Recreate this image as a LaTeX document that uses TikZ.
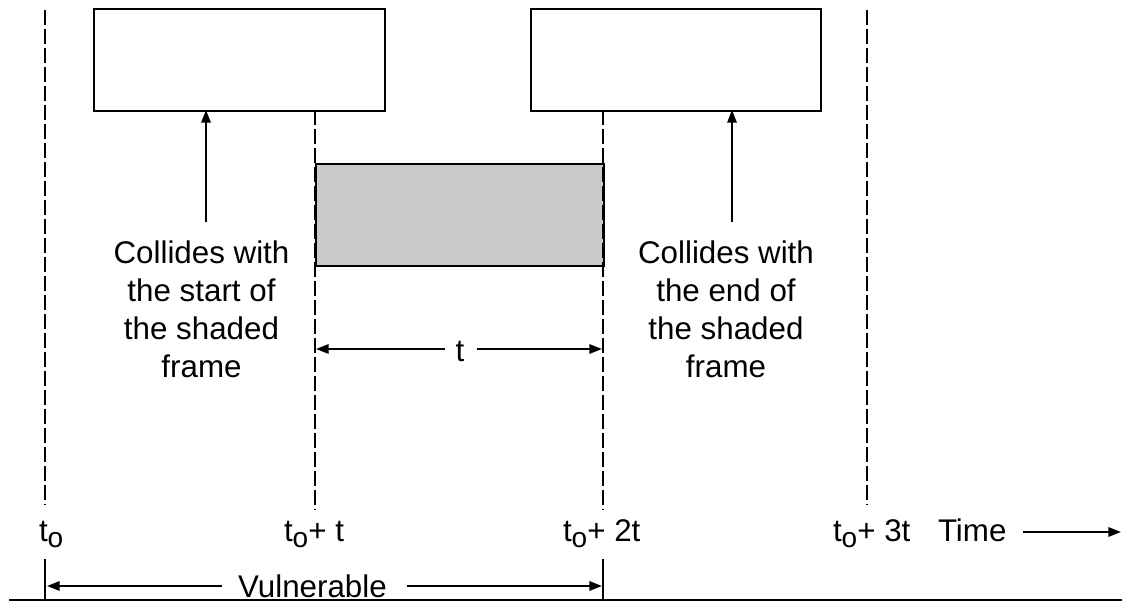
\documentclass[tikz,border=0pt]{standalone}
\usepackage{fontspec}
\setmainfont{Liberation Sans}
\usetikzlibrary{arrows.meta}
\begin{document}
\begin{tikzpicture}[x=0.75pt,y=-0.75pt,
  line width=1.5pt,
  every node/.style={inner sep=0pt,font=\fontsize{23.5}{28.5}\selectfont},
  frame/.style={draw=black,line width=1.5pt},
  timeline/.style={draw=black,line width=1.5pt,dash pattern=on 11.25pt off 3pt},
  tip/.style={-{Triangle[length=9.5pt,width=7pt]}},
  note/.style={align=center,anchor=base}]
\useasboundingbox (0,0) rectangle (1122,602);

% frames on the shared channel
\node[frame,minimum width=218pt,minimum height=76.5pt,anchor=north west] (fa) at (93,8) {};
\node[frame,minimum width=217.5pt,minimum height=76.5pt,anchor=north west] (fb) at (530,8) {};
\node[frame,fill=black!21,minimum width=216pt,minimum height=76.5pt,anchor=north west] (fs) at (315,163) {};

% time marks
\coordinate (a0) at (45,10);   \coordinate (a1) at (45,505);
\coordinate (b0) at (315,110); \coordinate (b1) at (315,510);
\coordinate (c0) at (603,110); \coordinate (c1) at (603,510);
\coordinate (d0) at (867,10);  \coordinate (d1) at (867,505);
\draw[timeline] (a0) -- (a1);
\draw[timeline] (b0) -- (b1);
\draw[timeline] (c0) -- (c1);
\draw[timeline] (d0) -- (d1);

% collision notes (base anchor sits on the last line)
\node[note] (na) at (201.5,378) {Collides with\\the start of\\the shaded\\frame};
\node[note] (nb) at (726,378) {Collides with\\the end of\\the shaded\\frame};
\coordinate (pa) at (206,222); \coordinate (qa) at (206,110);
\coordinate (pb) at (732,222); \coordinate (qb) at (732,110);
\draw[tip] (pa) -- (qa);
\draw[tip] (pb) -- (qb);

% frame time t
\node[anchor=base] (tl) at (460,362) {t};
\coordinate (t1) at (445,349); \coordinate (t2) at (316,349);
\coordinate (t3) at (477,349); \coordinate (t4) at (602,349);
\draw[tip] (t1) -- (t2);
\draw[tip] (t3) -- (t4);

% axis labels
\newcommand{\tsub}{t\raisebox{-5pt}{\fontsize{21}{21}\selectfont o}}
\node[anchor=base west] (l0) at (38,541) {\tsub};
\node[anchor=base west] (l1) at (283,541) {\tsub+ t};
\node[anchor=base west] (l2) at (562,541) {\tsub+ 2t};
\node[anchor=base west] (l3) at (832,541) {\tsub+ 3t};
\node[anchor=base west] (tm) at (937,541) {Time};
\coordinate (ta) at (1023,532); \coordinate (tb) at (1121,532);
\draw[tip] (ta) -- (tb);

% vulnerable period
\coordinate (v0) at (45,559); \coordinate (v1) at (45,600);
\coordinate (w0) at (603,559); \coordinate (w1) at (603,600);
\draw (v0) -- (v1);
\draw (w0) -- (w1);
\node[anchor=base] (vu) at (312.5,597) {Vulnerable};
\coordinate (va) at (222,586); \coordinate (vb) at (47,586);
\coordinate (vc) at (407,586); \coordinate (vd) at (602,586);
\draw[tip] (va) -- (vb);
\draw[tip] (vc) -- (vd);

% base line
\coordinate (h0) at (9,600); \coordinate (h1) at (1122,600);
\draw (h0) -- (h1);
\end{tikzpicture}
\end{document}
